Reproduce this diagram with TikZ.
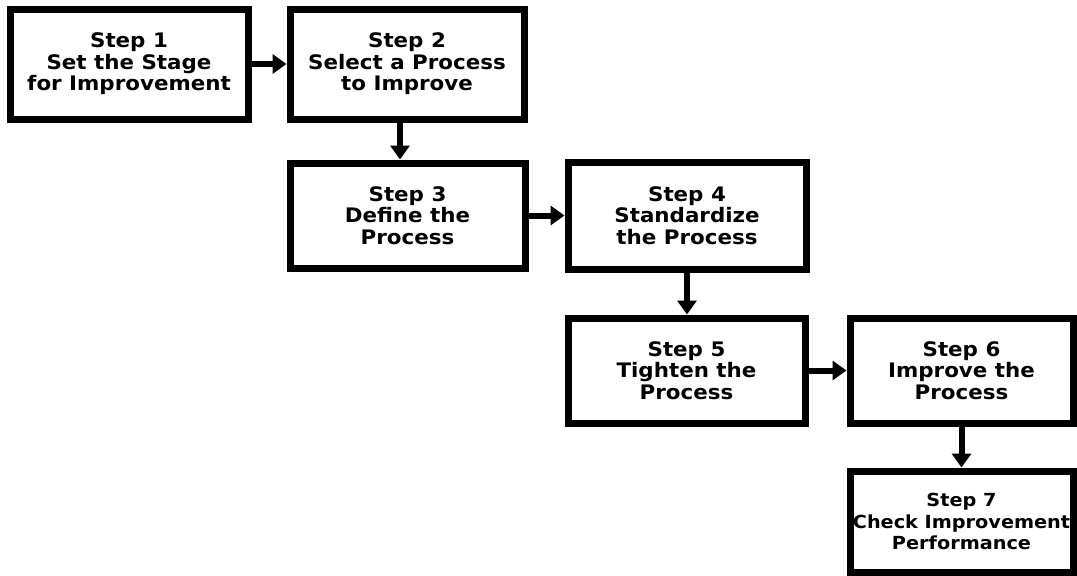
\documentclass[tikz,border=0pt]{standalone}
\usepackage{fontspec}
\setsansfont{DejaVu Sans}[BoldFeatures={FakeStretch=1.07}]
\usetikzlibrary{arrows.meta}
\begin{document}
\begin{tikzpicture}[x=1pt,y=-1pt,
  stepbox/.style={draw=black,line width=7pt,fill=white,rectangle,
    align=center,inner sep=0pt,
    font=\sffamily\bfseries\fontsize{20}{21.5}\selectfont},
  narrowtext/.style={font=\sffamily\bfseries\fontsize{18}{21.5}\selectfont},
  flow/.style={line width=6pt,-{Triangle[length=14pt,width=19pt]}}]
  \useasboundingbox (0,0) rectangle (1077,576);
  \fill[white] (0,0) rectangle (1077,576);
  % process steps
  \node[stepbox,minimum width=238pt,minimum height=110pt] (b1) at (129,64)
    {Step 1\\Set the Stage\\for Improvement};
  \node[stepbox,minimum width=234pt,minimum height=110pt] (b2) at (407,64)
    {Step 2\\Select a Process\\to Improve};
  \node[stepbox,minimum width=235pt,minimum height=105pt] (b3) at (407.5,215.5)
    {Step 3\\Define the\\Process};
  \node[stepbox,minimum width=238pt,minimum height=107pt] (b4) at (687,215.5)
    {Step 4\\Standardize\\the Process};
  \node[stepbox,minimum width=237pt,minimum height=105pt] (b5) at (686.5,370.5)
    {Step 5\\Tighten the\\Process};
  \node[stepbox,minimum width=223pt,minimum height=105pt] (b6) at (961.5,370.5)
    {Step 6\\Improve the\\Process};
  \node[stepbox,narrowtext,minimum width=223pt,minimum height=101pt] (b7) at (961.5,521.5)
    {Step 7\\Check Improvement\\Performance};
  % connectors between steps
  \draw[flow] (b1.east) -- (b2.west);
  \draw[flow] ([xshift=-7pt]b2.south) -- ([xshift=-7pt]b2.south |- b3.north);
  \draw[flow] (b3.east) -- (b4.west);
  \draw[flow] (b4.south) -- (b4.south |- b5.north);
  \draw[flow] (b5.east) -- (b6.west);
  \draw[flow] (b6.south) -- (b7.north);
\end{tikzpicture}
\end{document}
